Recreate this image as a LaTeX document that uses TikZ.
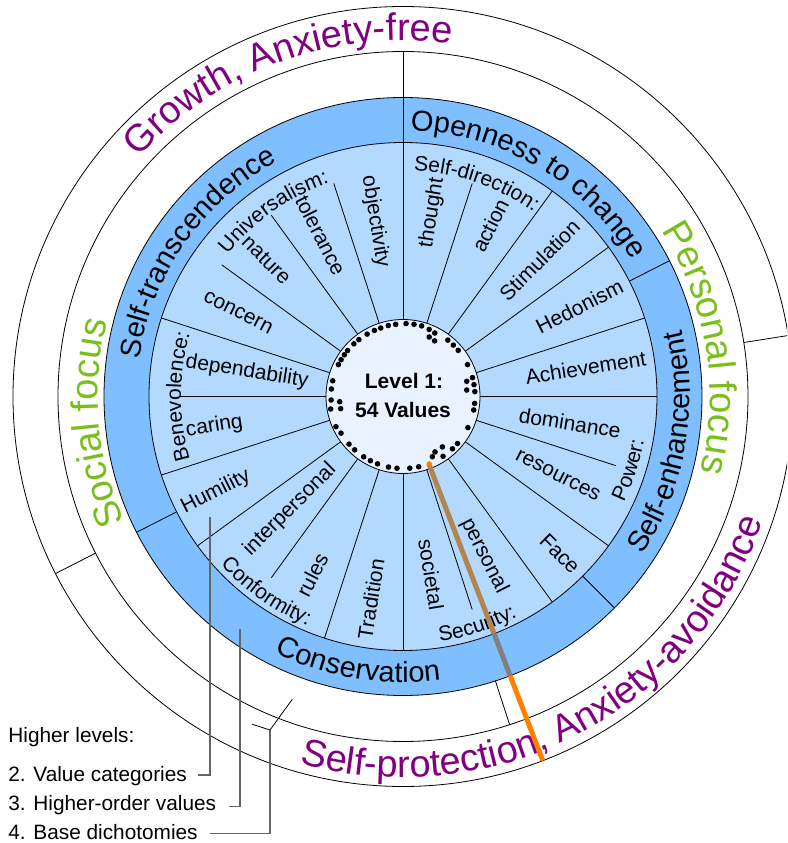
\documentclass[tikz,border=0pt]{standalone}
\usepackage{fontspec}
\setmainfont{Liberation Sans}
\usetikzlibrary{decorations.text}
\definecolor{ringlight}{RGB}{179,217,255}
\definecolor{ringdark}{RGB}{128,191,255}
\definecolor{corefill}{RGB}{232,243,255}
\definecolor{dichpurple}{RGB}{128,0,128}
\definecolor{focusgreen}{RGB}{122,190,30}
\definecolor{hiorange}{RGB}{255,128,0}
\definecolor{hibrown}{RGB}{178,132,80}
\definecolor{higray}{RGB}{128,128,128}
\definecolor{pointergray}{RGB}{100,100,100}
% #1 centre angle, #2 baseline radius, #3 half span, #4 font size, #5 colour, #6 text
\newcommand{\arctextcw}[6]{\path[decorate,decoration={text along path,text color=#5,text={|\fontsize{#4}{#4}\selectfont|#6},text align=center}] ({#1+#3}:#2pt) arc[start angle={#1+#3},end angle={#1-#3},radius=#2pt];}
\newcommand{\arctextccw}[6]{\path[decorate,decoration={text along path,text color=#5,text={|\fontsize{#4}{#4}\selectfont|#6},text align=center}] ({#1-#3}:#2pt) arc[start angle={#1-#3},end angle={#1+#3},radius=#2pt];}
\begin{document}
\begin{tikzpicture}[x=1pt,y=1pt,line width=0.8pt,
  lab/.style={font=\fontsize{21}{21}\selectfont,inner sep=0pt},
  legend/.style={font=\fontsize{20.8}{20.8}\selectfont,inner sep=0pt,anchor=base west},
  corelab/.style={font=\bfseries\fontsize{21}{21}\selectfont,inner sep=0pt,anchor=base},
  pointer/.style={draw=pointergray,line width=1.2pt},
  valdot/.style={fill=black}]
\useasboundingbox (-403,-446.5) rectangle (384,396.5);
\clip (-403,-446.5) rectangle (384,396.5);
% rings
\fill[ringdark] (0,0) circle (299pt);
\fill[ringlight] (0,0) circle (254pt);
\fill[corefill] (0,0) circle (77pt);
\foreach \r in {77,254,299,345,390} \draw (0,0) circle (\r pt);
% full radial lines of the value categories
\foreach \a in {54,36,18,0,-36,-54,-90,-108,-144,-162,162} \draw (\a:77pt) -- (\a:254pt);
\draw (90:77pt) -- (90:345pt);
% sub lines
\foreach \a in {72,-18,-72,-126,180,144,126,108} \draw (\a:77pt) -- (\a:224pt);
% higher-order dividers
\foreach \a in {27,-45,-153} \draw (\a:254pt) -- (\a:299pt);
% focus divider
\draw (-72:299pt) -- (-72:345pt);
% dichotomy dividers
\foreach \a in {9,207} \draw (\a:345pt) -- (\a:390pt);
% value category labels
\node[lab,rotate=81] (lthought) at (81:186pt) {thought};
\node[lab,rotate=63] (laction) at (63:192pt) {action};
\node[lab,rotate=45] (lstim) at (45:193pt) {Stimulation};
\node[lab,rotate=27] (lhed) at (27:198pt) {Hedonism};
\node[lab,rotate=9] (lach) at (9:185pt) {Achievement};
\node[lab,rotate=-9] (ldom) at (-9:169pt) {dominance};
\node[lab,rotate=-27] (lres) at (-27:174pt) {resources};
\node[lab,rotate=-45] (lface) at (-45:222pt) {Face};
\node[lab,rotate=-63] (lpers) at (-63:179pt) {personal};
\node[lab,rotate=-81] (lsoc) at (-81:180pt) {societal};
\node[lab,rotate=81] (ltrad) at (-99:205pt) {Tradition};
\node[lab,rotate=63] (lrules) at (-117:200pt) {rules};
\node[lab,rotate=45] (linter) at (-135:160pt) {interpersonal};
\node[lab,rotate=27] (lhum) at (-153:210pt) {Humility};
\node[lab,rotate=9] (lcaring) at (-171:191pt) {caring};
\node[lab,rotate=-9] (ldep) at (171:158pt) {dependability};
\node[lab,rotate=-27] (lconc) at (153:185pt) {concern};
\node[lab,rotate=-45] (lnat) at (135:193pt) {nature};
\node[lab,rotate=-63] (ltol) at (117:181pt) {tolerance};
\node[lab,rotate=-81] (lobj) at (99:177pt) {objectivity};
% category names on arcs
\arctextcw{71}{226}{30}{21}{black}{Self-direction:}
\arctextcw{125}{226}{30}{21}{black}{Universalism:}
\arctextcw{180}{222}{30}{21}{black}{Benevolence:}
\arctextccw{-18}{245}{25}{21}{black}{Power:}
\arctextccw{-72}{248}{25}{21}{black}{Security:}
\arctextccw{-125}{248}{25}{21}{black}{Conformity:}
% higher-order values
\arctextcw{59.6}{266}{45}{29}{black}{Openness to change}
\arctextcw{145}{266}{45}{29}{black}{Self-transcendence}
\arctextccw{-10}{287}{40}{29}{black}{Self-enhancement}
\arctextccw{-99.5}{286}{40}{29}{black}{Conservation}
% focus
\arctextcw{185}{305}{40}{38}{focusgreen}{Social focus}
\arctextcw{9.25}{307}{40}{38}{focusgreen}{Personal focus}
% dichotomies
\arctextcw{110}{356}{45}{38}{dichpurple}{Growth, Anxiety-free}
\arctextccw{-62.4}{381}{60}{38}{dichpurple}{Self-protection, Anxiety-avoidance}
% highlighted value line
\draw[hibrown,line width=5pt] (-69:72pt) -- (-69:254pt);
\draw[higray,line width=5pt] (-69:254pt) -- (-69:299pt);
\draw[hiorange,line width=5pt] (-69:299pt) -- (-69:390pt);
% core
\node[corelab] (lvl) at (1,7.5) {Level 1:};
\node[corelab] (nvals) at (0,-21.5) {54 Values};
% value dots
\foreach \a/\r in {95.8/72.5,101.7/72.5,87.6/73,81.3/73,75.2/73,68.7/72,63.4/71,66.2/65,60.4/64,51.5/72,45.6/72,39.9/72,26.3/72,15.2/72,9.5/72,3.9/72,13.4/65.5,5.8/64,-5.5/72,-10.8/72,-25.6/72,-40.8/72,-46.6/72,-56.2/72,-60/64,-64/67,-77.4/72,-84.6/72,-94.8/72,-101.6/72,-110.7/72,-116.9/72,-123.1/72,-132.2/72,-138.6/72,-149.4/72,-155.8/73.5,189.8/73.4,182.8/72,184.7/63.5,191/63.5,174/72,167.4/72,153.7/72,149.3/72,144.6/72,140.3/72,133/72,127.8/72,119.9/72,113.4/72,108/72,-52/64}
  \fill[valdot] (\a:\r pt) circle (2.8pt);
\fill[hiorange] (-68.7:72.4pt) circle (2.8pt);
% legend
\node[legend] (lhead) at (-395,-346.2) {Higher levels:};
\node[legend] (leg2) at (-395,-384.5) {2. Value categories};
\node[legend] (leg3) at (-395,-414.2) {3. Higher-order values};
\node[legend] (leg4) at (-395,-442.8) {4. Base dichotomies};
\coordinate (p2s) at (-204.7,-378.5);
\coordinate (p2k) at (-193,-378.5);
\coordinate (p2e) at (-193,-120.5);
\coordinate (p3s) at (-173.7,-410.2);
\coordinate (p3k) at (-163,-410.2);
\coordinate (p3e) at (-163,-232.5);
\coordinate (p4s) at (-193,-436.8);
\coordinate (p4k) at (-133,-436.8);
\coordinate (p4f) at (-133,-333.5);
\coordinate (p4a) at (-150.7,-327.8);
\coordinate (p4b) at (-110.7,-302.8);
\draw[pointer] (p2s) -- (p2k) -- (p2e);
\draw[pointer] (p3s) -- (p3k) -- (p3e);
\draw[pointer] (p4s) -- (p4k) -- (p4f);
\draw[line width=0.8pt] (p4a) -- (p4f) -- (p4b);
\end{tikzpicture}
\end{document}
